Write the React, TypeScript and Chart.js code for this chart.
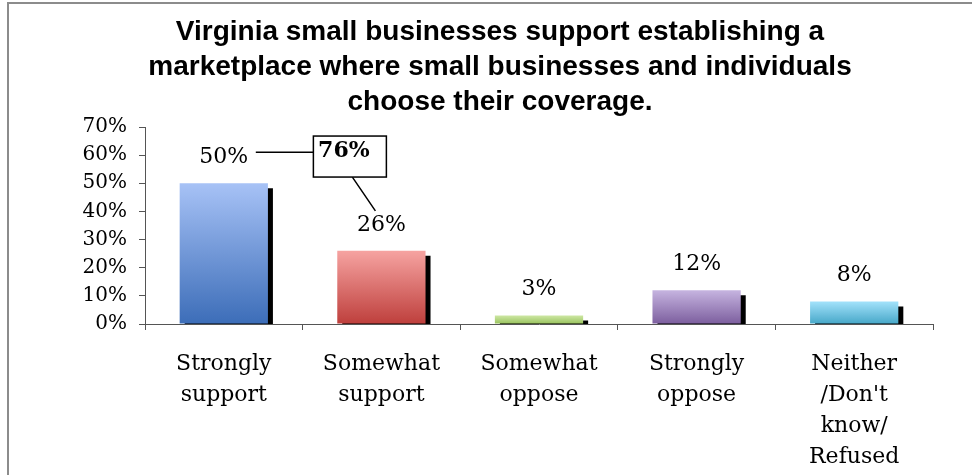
import { useEffect, useRef } from "react";
import { Chart, registerables } from "chart.js";

Chart.register(...registerables);

const TITLE_LINES = [
  "Virginia small businesses support establishing a",
  "marketplace where small businesses and individuals",
  "choose their coverage.",
];
const CATEGORIES = [
  ["Strongly", "support"],
  ["Somewhat", "support"],
  ["Somewhat", "oppose"],
  ["Strongly", "oppose"],
  ["Neither", "/Don't", "know/", "Refused"],
];
const VALUES = [50, 26, 3, 12, 8];
const Y_MAX = 70;
const Y_STEP = 10;
const TOP_COLORS = ["#a7c2f6", "#f6a3a1", "#cde7a3", "#c6b4e0", "#a3e2fb"];
const BOTTOM_COLORS = ["#3c6db8", "#be3f3c", "#98c25c", "#7c5e9e", "#46a7c8"];
const CALLOUT_LABEL = "76%";
const CALLOUT_POS = { index: 0.8, value: 59.5 };

const SERIF = '"DejaVu Serif", serif';
const AXIS_COLOR = "#555555";

const overlayPlugin = {
  id: "overlay",
  beforeDatasetsDraw(chart: any) {
    const ctx = chart.ctx;
    ctx.save();
    ctx.shadowColor = "#000000";
    ctx.shadowOffsetX = 5;
    ctx.shadowOffsetY = 5;
    ctx.shadowBlur = 0;
  },
  afterDatasetsDraw(chart: any) {
    const ctx = chart.ctx;
    ctx.restore();
    const meta = chart.getDatasetMeta(0);
    ctx.save();
    ctx.font = `22px ${SERIF}`;
    ctx.fillStyle = "#000";
    ctx.textAlign = "center";
    ctx.textBaseline = "middle";
    const labelPts: { x: number; y: number }[] = [];
    meta.data.forEach((el: any, i: number) => {
      const y = el.y - 26;
      ctx.fillText(`${VALUES[i]}%`, el.x, y);
      labelPts.push({ x: el.x, y });
    });

    // callout
    const xs = chart.scales.x;
    const ys = chart.scales.y;
    const cx = xs.getPixelForValue(CALLOUT_POS.index);
    const cy = ys.getPixelForValue(CALLOUT_POS.value);
    const bw = 73;
    const bh = 41;
    const left = cx - bw / 2;
    const top = cy - bh / 2;
    ctx.strokeStyle = "#000";
    ctx.lineWidth = 1.5;
    const p0 = labelPts[0];
    const p1 = labelPts[1];
    ctx.beginPath();
    ctx.moveTo(p0.x + 32, p0.y - 5);
    ctx.lineTo(left, p0.y - 5);
    ctx.moveTo(left + 39, top + bh);
    ctx.lineTo(p1.x - 6, p1.y - 14);
    ctx.stroke();
    ctx.fillStyle = "#fff";
    ctx.fillRect(left, top, bw, bh);
    ctx.strokeRect(left, top, bw, bh);
    ctx.fillStyle = "#000";
    ctx.font = `bold 22px ${SERIF}`;
    ctx.fillText(CALLOUT_LABEL, cx - 6, cy - 5);
    ctx.restore();
  },
};

export default function App() {
  const ref = useRef<HTMLCanvasElement | null>(null);
  useEffect(() => {
    if (!ref.current) return;
    const chart = new Chart(ref.current, {
      type: "bar",
      data: {
        labels: CATEGORIES,
        datasets: [
          {
            data: VALUES,
            backgroundColor: (c: any) => {
              const i = c.dataIndex ?? 0;
              const chart = c.chart;
              const area = chart.chartArea;
              if (!area || !chart.scales.y) return TOP_COLORS[i];
              const ys = chart.scales.y;
              const t = ys.getPixelForValue(VALUES[i]);
              const b = ys.getPixelForValue(0);
              if (!isFinite(t) || !isFinite(b) || t === b) return TOP_COLORS[i];
              const g = chart.ctx.createLinearGradient(0, t, 0, b);
              g.addColorStop(0, TOP_COLORS[i]);
              g.addColorStop(1, BOTTOM_COLORS[i]);
              return g;
            },
            borderWidth: 0,
            barPercentage: 0.56,
            categoryPercentage: 1,
          },
        ],
      },
      options: {
        responsive: false,
        animation: false,
        devicePixelRatio: 1,
        layout: { padding: 0 },
        plugins: {
          legend: { display: false },
          tooltip: { enabled: false },
          title: {
            display: true,
            text: TITLE_LINES,
            color: "#000",
            font: {
              family: '"Liberation Sans", Arial, sans-serif',
              size: 28,
              weight: "bold",
              lineHeight: 35 / 28,
            },
            padding: { top: 11, bottom: 7 },
          },
        },
        scales: {
          x: {
            grid: {
              display: true,
              drawOnChartArea: false,
              drawTicks: true,
              tickLength: 6,
              color: AXIS_COLOR,
              offset: true,
            },
            border: { display: true, color: AXIS_COLOR, width: 1 },
            ticks: {
              color: "#000",
              font: { family: SERIF, size: 22, lineHeight: 31 / 22 },
              padding: 19,
              maxRotation: 0,
              autoSkip: false,
            },
            afterFit(s: any) {
              s.height = 160;
              s.paddingLeft = 0;
              s.paddingRight = 0;
            },
          },
          y: {
            min: 0,
            max: Y_MAX,
            ticks: {
              stepSize: Y_STEP,
              callback: (v: any) => `${v}%`,
              color: "#000",
              font: { family: SERIF, size: 20 },
              padding: 12,
            },
            grid: {
              display: true,
              drawOnChartArea: false,
              drawTicks: true,
              tickLength: 6,
              color: AXIS_COLOR,
            },
            border: { display: true, color: AXIS_COLOR, width: 1 },
            afterFit(s: any) {
              s.width = 136;
              s.paddingTop = 0;
              s.paddingBottom = 0;
            },
          },
          yRight: {
            position: "right",
            display: true,
            min: 0,
            max: Y_MAX,
            grid: { display: false },
            border: { display: false },
            ticks: { display: false },
            afterFit(s: any) {
              s.width = 58;
              s.paddingTop = 0;
              s.paddingBottom = 0;
            },
          },
        },
      },
      plugins: [overlayPlugin],
    } as any);
    return () => chart.destroy();
  }, []);

  return (
    <div
      style={{
        position: "fixed",
        left: 7,
        top: 2,
        width: 982,
        height: 480,
        borderLeft: "2px solid #8c8c8c",
        borderTop: "2px solid #8c8c8c",
        background: "#fff",
      }}
    >
      <canvas ref={ref} width={982} height={480} style={{ display: "block" }} />
    </div>
  );
}
